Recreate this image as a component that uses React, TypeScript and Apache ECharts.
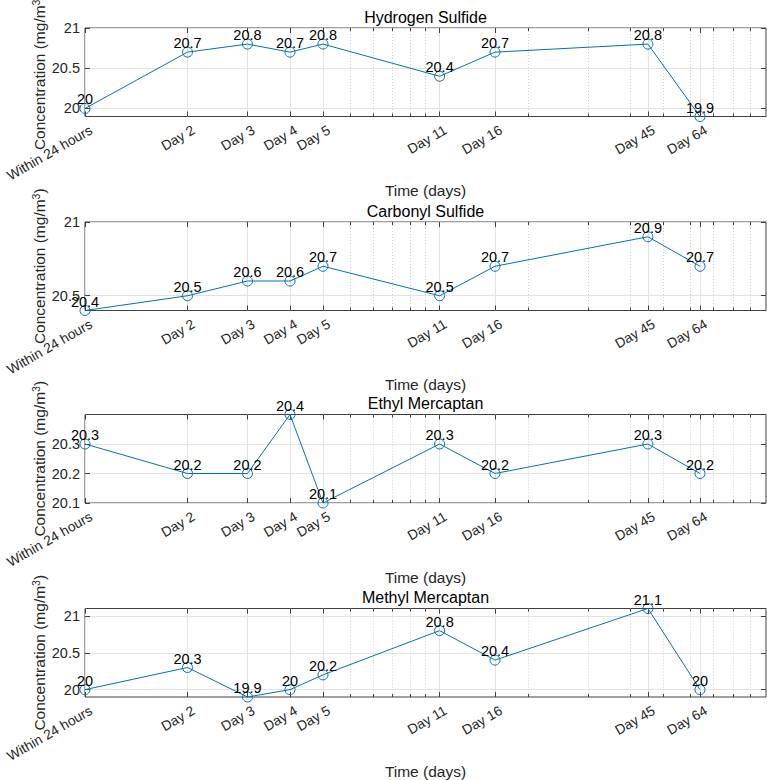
import React, { useEffect, useRef } from 'react';
import * as echarts from 'echarts';

// Sampling days (log-scaled time axis) and their tick labels
const days = [1, 2, 3, 4, 5, 11, 16, 45, 64];
const dayLabels = ['Within 24 hours', 'Day 2', 'Day 3', 'Day 4', 'Day 5', 'Day 11', 'Day 16', 'Day 45', 'Day 64'];
// Log-decade minor grid positions
const minorDays = [6, 7, 8, 9, 10, 20, 30, 40, 50, 60, 70, 80, 90];

const compounds = ['Hydrogen Sulfide', 'Carbonyl Sulfide', 'Ethyl Mercaptan', 'Methyl Mercaptan'];
const hydrogenSulfide = [20, 20.7, 20.8, 20.7, 20.8, 20.4, 20.7, 20.8, 19.9];
const carbonylSulfide = [20.4, 20.5, 20.6, 20.6, 20.7, 20.5, 20.7, 20.9, 20.7];
const ethylMercaptan = [20.3, 20.2, 20.2, 20.4, 20.1, 20.3, 20.2, 20.3, 20.2];
const methylMercaptan = [20, 20.3, 19.9, 20, 20.2, 20.8, 20.4, 21.1, 20];

const yMins = [19.9, 20.4, 20.1, 19.9];
const yMaxs = [21, 21, 20.4, 21.1];
const yTicks = [
  [20, 20.5, 21],
  [20.5, 21],
  [20.1, 20.2, 20.3],
  [20, 20.5, 21],
];

const FONT = '"Liberation Sans", Arial, Helvetica, sans-serif';
const BLUE = '#0072BD';
const AXIS = '#262626';
const FRAME = '#404040';
const PLOT_LEFT = 85;
const PLOT_WIDTH = 681;
const PLOT_TOPS = [28, 222, 414.5, 608.5];
const PLOT_HEIGHT = 88.5;
const TICK_FONT = 14.5;
const XTICK_FONT = 13.8;
const NAME_FONT = 15.5;

function buildOption() {
  const seriesValues = [hydrogenSulfide, carbonylSulfide, ethylMercaptan, methylMercaptan];
  const labelOf = (v: number) => {
    const idx = days.indexOf(Math.round(v));
    return idx >= 0 ? dayLabels[idx] : '';
  };

  const grids: any[] = [];
  const xAxes: any[] = [];
  const yAxes: any[] = [];
  const series: any[] = [];
  const graphics: any[] = [];

  compounds.forEach((name, i) => {
    grids.push({
      left: PLOT_LEFT,
      top: PLOT_TOPS[i],
      width: PLOT_WIDTH,
      height: PLOT_HEIGHT,
      show: true,
      borderColor: FRAME,
      borderWidth: 1,
      backgroundColor: '#fff',
      containLabel: false,
      outerBoundsMode: 'none',
    });

    const logBase = { gridIndex: i, type: 'log', logBase: 10, min: 1, max: 100 };

    // bottom axis: day ticks, labels, solid grid lines
    xAxes.push({
      ...logBase,
      position: 'bottom',
      axisLine: { show: false },
      axisTick: { show: true, inside: true, length: 5, customValues: days, lineStyle: { color: FRAME, width: 1 } },
      axisLabel: {
        show: true,
        customValues: days,
        formatter: labelOf,
        rotate: 30,
        align: 'right',
        verticalAlign: 'top',
        padding: [0, -3, 0, 0],
        margin: 8,
        fontSize: XTICK_FONT,
        fontFamily: FONT,
        color: AXIS,
      },
      splitLine: { show: true, lineStyle: { color: '#e3e3e3', width: 1 } },
      name: 'Time (days)',
      nameLocation: 'middle',
      nameGap: 66,
      nameMoveOverlap: false,
      nameTextStyle: { fontSize: NAME_FONT, fontFamily: FONT, color: AXIS },
    });
    // bottom axis: minor log ticks and dotted grid lines
    xAxes.push({
      ...logBase,
      position: 'bottom',
      axisLine: { show: false },
      axisTick: { show: true, inside: true, length: 3, customValues: minorDays, lineStyle: { color: FRAME, width: 1 } },
      axisLabel: { show: false },
      splitLine: { show: true, lineStyle: { color: '#cfcfcf', width: 1, type: [1, 2] } },
    });
    // top axis: mirrored ticks
    xAxes.push({
      ...logBase,
      position: 'top',
      axisLine: { show: false },
      axisTick: { show: true, inside: true, length: 5, customValues: days, lineStyle: { color: FRAME, width: 1 } },
      axisLabel: { show: false },
      splitLine: { show: false },
    });
    xAxes.push({
      ...logBase,
      position: 'top',
      axisLine: { show: false },
      axisTick: { show: true, inside: true, length: 3, customValues: minorDays, lineStyle: { color: FRAME, width: 1 } },
      axisLabel: { show: false },
      splitLine: { show: false },
    });

    // left value axis
    yAxes.push({
      gridIndex: i,
      type: 'value',
      position: 'left',
      min: yMins[i],
      max: yMaxs[i],
      axisLine: { show: false },
      axisTick: { show: true, inside: true, length: 5, customValues: yTicks[i], lineStyle: { color: FRAME, width: 1 } },
      axisLabel: {
        show: true,
        customValues: yTicks[i],
        formatter: (v: number) => String(Math.round(v * 10) / 10),
        margin: 5,
        fontSize: TICK_FONT,
        fontFamily: FONT,
        color: AXIS,
      },
      splitLine: { show: true, lineStyle: { color: '#e3e3e3', width: 1 } },
      name: 'Concentration (mg/m{sup|3})',
      nameLocation: 'middle',
      nameGap: 37,
      nameMoveOverlap: false,
      nameTextStyle: {
        fontSize: NAME_FONT,
        fontFamily: FONT,
        color: AXIS,
        rich: {
          sup: { fontSize: 10.5, fontFamily: FONT, color: AXIS, verticalAlign: 'top', lineHeight: 18 },
        },
      },
    });
    // right value axis: mirrored ticks only
    yAxes.push({
      gridIndex: i,
      type: 'value',
      position: 'right',
      min: yMins[i],
      max: yMaxs[i],
      axisLine: { show: false },
      axisTick: { show: true, inside: true, length: 5, customValues: yTicks[i], lineStyle: { color: FRAME, width: 1 } },
      axisLabel: { show: false },
      splitLine: { show: false },
    });

    series.push({
      name,
      type: 'line',
      xAxisIndex: i * 4,
      yAxisIndex: i * 2,
      data: days.map((d, k) => [d, seriesValues[i][k]]),
      clip: false,
      symbol: 'circle',
      symbolSize: 10,
      lineStyle: { color: BLUE, width: 1 },
      itemStyle: { color: 'rgba(255,255,255,0)', borderColor: BLUE, borderWidth: 1 },
      label: {
        show: true,
        position: 'top',
        distance: 0,
        offset: [0, 4],
        formatter: (p: any) => String(p.value[1]),
        fontSize: TICK_FONT,
        fontFamily: FONT,
        color: '#000',
      },
      emphasis: { disabled: true },
      z: 5,
    });

    graphics.push({
      type: 'text',
      x: PLOT_LEFT + PLOT_WIDTH / 2,
      y: PLOT_TOPS[i] - 11,
      style: {
        text: name,
        fontSize: 16,
        fontFamily: FONT,
        fill: '#000',
        align: 'center',
        verticalAlign: 'middle',
      },
    });
  });

  return {
    animation: false,
    backgroundColor: '#fff',
    textStyle: { fontFamily: FONT },
    grid: grids,
    xAxis: xAxes,
    yAxis: yAxes,
    series,
    graphic: graphics,
  };
}

export default function App() {
  const ref = useRef<HTMLDivElement>(null);

  useEffect(() => {
    if (!ref.current) return;
    const chart = echarts.init(ref.current, undefined, { renderer: 'svg' });
    chart.setOption(buildOption() as any);
    return () => chart.dispose();
  }, []);

  return (
    <div
      ref={ref}
      style={{ position: 'absolute', left: 0, top: 0, width: 767, height: 780, background: '#fff' }}
    />
  );
}
